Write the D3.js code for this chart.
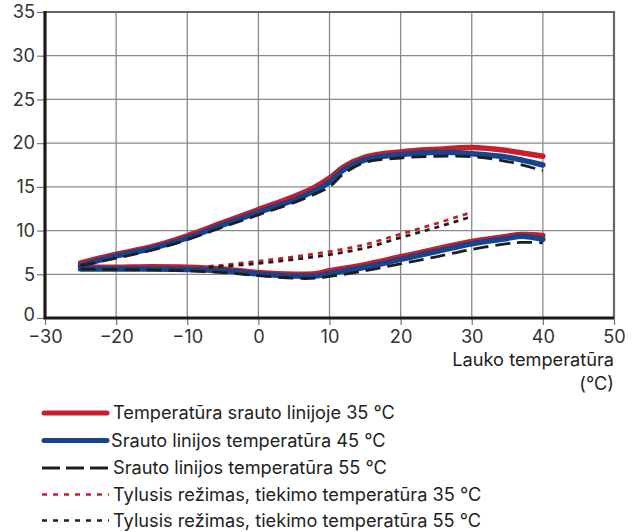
<!DOCTYPE html>
<html>
<head>
<meta charset="utf-8">
<script src="https://cdn.jsdelivr.net/npm/d3@7"></script>
<style>
  html, body { margin: 0; padding: 0; background: #fff; }
  svg { display: block; font-family: Inter, "Noto Sans", sans-serif; }
</style>
</head>
<body>
<svg id="chart" width="638" height="532"></svg>
<script>
// ---- data ----
const xTicks = [-30, -20, -10, 0, 10, 20, 30, 40, 50];
const yTicks = [0, 5, 10, 15, 20, 25, 30, 35];

const xUpper = [-25, -20, -15, -10, -5, 0, 5, 8, 10, 12, 15, 20, 25, 30, 35, 40];
const red35Upper  = [6.3, 7.3, 8.15, 9.4, 10.9, 12.4, 13.9, 15.0, 16.0, 17.3, 18.4, 19.0, 19.3, 19.5, 19.15, 18.5];
const blue45Upper = [6.0, 7.1, 7.95, 9.15, 10.65, 12.1, 13.5, 14.6, 15.55, 16.95, 18.1, 18.7, 18.95, 18.8, 18.4, 17.5];
const black55Upper = [6.0, 6.85, 7.75, 8.95, 10.4, 11.8, 13.2, 14.2, 15.0, 16.5, 17.8, 18.3, 18.5, 18.45, 17.9, 16.85];

const xLower = [-25, -20, -15, -10, -5, 0, 5, 8, 10, 15, 20, 25, 30, 35, 37, 40];
const red35Lower  = [5.8, 5.8, 5.85, 5.8, 5.6, 5.2, 5.0, 5.05, 5.4, 6.1, 7.0, 7.9, 8.75, 9.35, 9.55, 9.45];
const blue45Lower = [5.6, 5.6, 5.6, 5.55, 5.4, 5.05, 4.8, 4.8, 5.1, 5.8, 6.7, 7.6, 8.5, 9.1, 9.35, 9.0];
const black55Lower = [5.6, 5.55, 5.5, 5.4, 5.2, 4.85, 4.55, 4.55, 4.75, 5.4, 6.2, 7.0, 7.85, 8.5, 8.65, 8.6];

const xQuiet = [-7, -5, 0, 5, 10, 15, 20, 25, 30];
const quietRed35   = [5.9, 6.05, 6.5, 7.0, 7.6, 8.4, 9.6, 10.8, 12.1];
const quietBlack55 = [5.8, 5.9, 6.25, 6.7, 7.25, 8.0, 9.2, 10.35, 11.6];

const legendLabels = [
  "Temperatūra srauto linijoje 35 °C",
  "Srauto linijos temperatūra 45 °C",
  "Srauto linijos temperatūra 55 °C",
  "Tylusis režimas, tiekimo temperatūra 35 °C",
  "Tylusis režimas, tiekimo temperatūra 55 °C"
];
const xTitle = ["Lauko temperatūra", "(°C)"];

// ---- styles ----
const RED = "#c61f2e", BLUE = "#17458b", BLACK = "#1e1e1e";
const FS = 18.2;
const styles = [
  { color: RED,   width: 5.5, dash: null },
  { color: BLUE,  width: 5.5, dash: null },
  { color: BLACK, width: 2.8, dash: "15,7" },
  { color: RED,   width: 2.8, dash: "5,5" },
  { color: BLACK, width: 2.8, dash: "5,5" }
];

const svg = d3.select("#chart");
const pL = 45, pR = 614, pT = 12, pB = 318;
const x = d3.scaleLinear().domain([-30, 50]).range([pL, pR]);
const y = d3.scaleLinear().domain([0, 35]).range([pB, pT]);

// grid
const g = svg.append("g");
g.selectAll("line.vg").data(xTicks.slice(1, -1)).enter().append("line")
  .attr("x1", d => x(d)).attr("x2", d => x(d)).attr("y1", pT).attr("y2", pB)
  .attr("stroke", "#8a8a8a").attr("stroke-width", 1.3);
g.selectAll("line.hg").data(yTicks.slice(1, -1)).enter().append("line")
  .attr("x1", pL).attr("x2", pR).attr("y1", d => y(d)).attr("y2", d => y(d))
  .attr("stroke", "#8a8a8a").attr("stroke-width", 1.3);
// top/right frame
svg.append("path").attr("d", `M${pL},${pT}H${pR}V${pB}`)
  .attr("fill", "none").attr("stroke", "#666").attr("stroke-width", 2.2);

// axes
const xAxis = d3.axisBottom(x).tickValues(xTicks).tickSize(7).tickPadding(5)
  .tickFormat(d => d < 0 ? "\u2212" + Math.abs(d) : d);
const yAxis = d3.axisLeft(y).tickValues(yTicks).tickSize(8).tickPadding(2);
const gx = svg.append("g").attr("transform", `translate(0,${pB})`).call(xAxis);
const gy = svg.append("g").attr("transform", `translate(${pL},0)`).call(yAxis);
[gx, gy].forEach(a => {
  a.select(".domain").remove();
  a.selectAll(".tick line").attr("stroke", "#777").attr("stroke-width", 1.2);
  a.selectAll(".tick text").attr("fill", "#333").attr("font-size", FS)
    .attr("font-family", "Inter, sans-serif");
});
gx.selectAll(".tick text").attr("dy", "0.74em");
gy.selectAll(".tick text").attr("dy", d => d === 0 ? "0.14em" : "0.32em");

// lines
const line = d3.line().x(d => x(d[0])).y(d => y(d[1])).curve(d3.curveCatmullRom.alpha(0.5));
function draw(xs, ys, st) {
  svg.append("path").datum(xs.map((v, i) => [v, ys[i]]))
    .attr("d", line).attr("fill", "none")
    .attr("stroke", st.color).attr("stroke-width", st.width)
    .attr("stroke-linecap", st.dash ? "butt" : "round")
    .attr("stroke-linejoin", "round")
    .attr("stroke-dasharray", st.dash);
}
draw(xUpper, red35Upper, styles[0]);
draw(xLower, red35Lower, styles[0]);
draw(xUpper, blue45Upper, styles[1]);
draw(xLower, blue45Lower, styles[1]);
draw(xUpper, black55Upper, styles[2]);
draw(xLower, black55Lower, styles[2]);
draw(xQuiet, quietRed35, styles[3]);
draw(xQuiet, quietBlack55, styles[4]);

// axis lines (thick black)
svg.append("path").attr("d", `M${pL},${pT - 1}V${pB}H${pR}`)
  .attr("fill", "none").attr("stroke", "#1a1a1a").attr("stroke-width", 3.2);

// x title
svg.selectAll("text.xt").data(xTitle).enter().append("text")
  .attr("x", pR).attr("y", (d, i) => 366 + i * 24)
  .attr("text-anchor", "end").attr("font-size", FS).attr("fill", "#222")
  .text(d => d);

// legend
const legY = [413, 440.5, 468, 494.5, 520.5];
const lg = svg.selectAll("g.leg").data(legendLabels).enter().append("g")
  .attr("transform", (d, i) => `translate(0,${legY[i]})`);
lg.append("line").attr("x1", (d, i) => i < 2 ? 44 : 42).attr("x2", (d, i) => i < 2 ? 107 : 109)
  .attr("y1", 0).attr("y2", 0)
  .attr("stroke", (d, i) => styles[i].color)
  .attr("stroke-width", (d, i) => i < 2 ? 5 : (i === 2 ? 2.8 : 2.5))
  .attr("stroke-linecap", (d, i) => i < 2 ? "round" : "butt")
  .attr("stroke-dasharray", (d, i) => i === 2 ? "18,6" : (i > 2 ? "5,6" : null));
lg.append("text").attr("x", (d, i) => i === 1 ? 111 : 113).attr("y", 0).attr("dy", "0.35em")
  .attr("font-size", FS).attr("fill", "#222").text(d => d);
</script>
</body>
</html>
